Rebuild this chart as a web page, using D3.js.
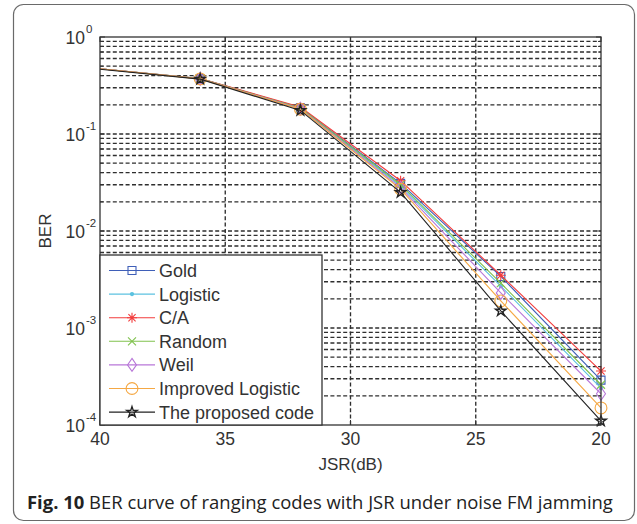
<!DOCTYPE html>
<html>
<head>
<meta charset="utf-8">
<script src="https://cdn.jsdelivr.net/npm/d3@7"></script>
<style>
  html, body { margin: 0; padding: 0; background: #fff; }
  svg { display: block; }
</style>
</head>
<body>
<svg id="chart" width="637" height="524"></svg>
<script>
// JSR sweep (dB) and BER per ranging code
const jsr = [40, 36, 32, 28, 24, 20];
const gold     = [0.47, 0.372, 0.186, 0.031, 0.0034, 0.00029];
const logistic = [0.47, 0.371, 0.184, 0.029, 0.0027, 0.00024];
const ca       = [0.47, 0.373, 0.190, 0.033, 0.0035, 0.00036];
const random   = [0.47, 0.372, 0.185, 0.030, 0.0029, 0.00026];
const weil     = [0.47, 0.371, 0.182, 0.028, 0.0023, 0.00021];
const improved = [0.47, 0.370, 0.180, 0.027, 0.0019, 0.00015];
const proposed = [0.465, 0.368, 0.175, 0.025, 0.0015, 0.00011];

const seriesNames = ["Gold", "Logistic", "C/A", "Random", "Weil", "Improved Logistic", "The proposed code"];
const seriesValues = [gold, logistic, ca, random, weil, improved, proposed];
const seriesColors = ["#3f5fb8", "#5cc2e0", "#f23c3c", "#80c24e", "#b877d8", "#f5a844", "#222222"];
const seriesMarkers = ["square", "dot", "asterisk", "cross", "diamond", "circle", "star"];

const xTicks = [40, 35, 30, 25, 20];
const yDecades = [-4, -3, -2, -1, 0];

const svg = d3.select("#chart");
const font = "'Liberation Sans', Arial, sans-serif";

// Outer rounded frame
svg.append("rect")
  .attr("x", 13.5).attr("y", 4.5).attr("width", 621).attr("height", 516)
  .attr("rx", 10).attr("ry", 10)
  .attr("fill", "#fff").attr("stroke", "#6a6a6a").attr("stroke-width", 1.2);

const plot = { left: 100, right: 601, top: 37, bottom: 425 };
const x = d3.scaleLinear().domain([40, 20]).range([plot.left, plot.right]);
const y = d3.scaleLog().domain([1e-4, 1]).range([plot.bottom, plot.top]);

const g = svg.append("g");

// Grid lines: decades plus minor 2..9 and vertical at x ticks
const gridColor = "#2e2e2e";
const dash = "4,2.4";
const minorVals = [];
yDecades.slice(0, -1).forEach(d => {
  for (let m = 2; m <= 9; m++) minorVals.push(m * Math.pow(10, d));
});
const hVals = yDecades.map(d => Math.pow(10, d)).filter(v => v > 1e-4 && v < 1).concat(minorVals);
g.selectAll("line.hgrid").data(hVals).enter().append("line")
  .attr("class", "hgrid")
  .attr("x1", plot.left).attr("x2", plot.right)
  .attr("y1", d => y(d)).attr("y2", d => y(d))
  .attr("stroke", gridColor).attr("stroke-width", 1.35).attr("stroke-dasharray", dash);
g.selectAll("line.vgrid").data(xTicks.filter(t => t !== 40 && t !== 20)).enter().append("line")
  .attr("class", "vgrid")
  .attr("x1", d => x(d)).attr("x2", d => x(d))
  .attr("y1", plot.top).attr("y2", plot.bottom)
  .attr("stroke", gridColor).attr("stroke-width", 1.35).attr("stroke-dasharray", dash);

// Marker shapes
function markerPath(type) {
  switch (type) {
    case "square": return d3.symbol(d3.symbolSquare, 64)();
    case "circle": return d3.symbol(d3.symbolCircle, 110)();
    case "diamond": return "M0,-6.5L4.5,0L0,6.5L-4.5,0Z";
    case "star": return d3.symbol(d3.symbolStar, 34)();
    case "dot": return d3.symbol(d3.symbolCircle, 8)();
    case "cross": return "M-4,-4L4,4M-4,4L4,-4";
    case "asterisk": return "M-5,0H5M0,-5V5M-3.6,-3.6L3.6,3.6M-3.6,3.6L3.6,-3.6";
  }
}
function markerFill(type, color) {
  return type === "dot" ? color : "none";
}

const line = d3.line().x((d, i) => x(jsr[i])).y(d => y(d));

const series = seriesNames.map((name, k) => ({
  name, values: seriesValues[k], color: seriesColors[k], marker: seriesMarkers[k]
}));

const sg = g.selectAll("g.series").data(series).enter().append("g").attr("class", "series");
sg.append("path")
  .attr("d", d => line(d.values))
  .attr("fill", "none").attr("stroke", d => d.color).attr("stroke-width", 1.1);
sg.each(function (s) {
  d3.select(this).selectAll("path.mk")
    .data(s.values.map((v, i) => ({ x: jsr[i], v })).filter(p => p.x < 40))
    .enter().append("path")
    .attr("class", "mk")
    .attr("d", markerPath(s.marker))
    .attr("transform", p => `translate(${x(p.x)},${y(p.v)})`)
    .attr("fill", markerFill(s.marker, s.color))
    .attr("stroke", s.color).attr("stroke-width", s.marker === "star" ? 1.4 : 1.1);
});

// Axes box
g.append("rect")
  .attr("x", plot.left).attr("y", plot.top)
  .attr("width", plot.right - plot.left).attr("height", plot.bottom - plot.top)
  .attr("fill", "none").attr("stroke", "#333").attr("stroke-width", 1.3);

// Inward tick marks
const tickLen = 5, minorLen = 3;
yDecades.forEach(d => {
  const yy = y(Math.pow(10, d));
  g.append("line").attr("x1", plot.left).attr("x2", plot.left + tickLen).attr("y1", yy).attr("y2", yy).attr("stroke", "#333");
  g.append("line").attr("x1", plot.right).attr("x2", plot.right - tickLen).attr("y1", yy).attr("y2", yy).attr("stroke", "#333");
});
minorVals.forEach(v => {
  const yy = y(v);
  g.append("line").attr("x1", plot.left).attr("x2", plot.left + minorLen).attr("y1", yy).attr("y2", yy).attr("stroke", "#333");
  g.append("line").attr("x1", plot.right).attr("x2", plot.right - minorLen).attr("y1", yy).attr("y2", yy).attr("stroke", "#333");
});
xTicks.forEach(t => {
  g.append("line").attr("x1", x(t)).attr("x2", x(t)).attr("y1", plot.bottom).attr("y2", plot.bottom - tickLen).attr("stroke", "#333");
  g.append("line").attr("x1", x(t)).attr("x2", x(t)).attr("y1", plot.top).attr("y2", plot.top + tickLen).attr("stroke", "#333");
});

// Y tick labels 10^n
const textColor = "#333";
yDecades.forEach(d => {
  const yy = y(Math.pow(10, d));
  svg.append("text")
    .attr("font-family", font).attr("fill", textColor)
    .attr("x", 85).attr("y", yy + 6.5)
    .attr("text-anchor", "end").attr("font-size", 17.5).text("10");
  svg.append("text")
    .attr("font-family", font).attr("fill", textColor)
    .attr("x", 86).attr("y", yy - 4).attr("font-size", 11.5)
    .text(d === 0 ? "0" : "-" + Math.abs(d));
});

// X tick labels
svg.selectAll("text.xt").data(xTicks).enter().append("text")
  .attr("class", "xt")
  .attr("font-family", font).attr("fill", textColor).attr("font-size", 17.5)
  .attr("text-anchor", "middle")
  .attr("x", d => x(d)).attr("y", 445)
  .text(d => d);

// Axis titles
svg.append("text")
  .attr("font-family", font).attr("fill", textColor).attr("font-size", 17)
  .attr("text-anchor", "middle").attr("x", (plot.left + plot.right) / 2).attr("y", 470)
  .text("JSR(dB)");
svg.append("text")
  .attr("font-family", font).attr("fill", textColor).attr("font-size", 17)
  .attr("text-anchor", "middle")
  .attr("transform", `translate(51,${y(1e-2)}) rotate(-90)`)
  .text("BER");

// Legend
const leg = { x: 100, y: 255, w: 222, h: 170 };
svg.append("rect")
  .attr("x", leg.x).attr("y", leg.y).attr("width", leg.w).attr("height", leg.h)
  .attr("fill", "#fff").attr("stroke", "#333").attr("stroke-width", 1.3);
const rowH = 23.6, row0 = 270.5;
series.forEach((s, i) => {
  const yy = row0 + i * rowH;
  svg.append("line")
    .attr("x1", 109).attr("x2", 155).attr("y1", yy).attr("y2", yy)
    .attr("stroke", s.color).attr("stroke-width", 1.1);
  svg.append("path")
    .attr("d", markerPath(s.marker))
    .attr("transform", `translate(132,${yy})`)
    .attr("fill", markerFill(s.marker, s.color))
    .attr("stroke", s.color).attr("stroke-width", s.marker === "star" ? 1.4 : 1.1);
  svg.append("text")
    .attr("font-family", font).attr("fill", textColor).attr("font-size", 18)
    .attr("x", 159).attr("y", yy + 6.5)
    .text(s.name);
});

// Caption
const cap = svg.append("text")
  .attr("font-family", "'Open Sans', 'Noto Sans', sans-serif")
  .attr("font-size", 18).attr("fill", "#222")
  .attr("x", 0).attr("y", 0);
cap.append("tspan").attr("font-weight", "bold").text("Fig. 10");
cap.append("tspan").text(" BER curve of ranging codes with JSR under noise FM jamming");
const capW = cap.node().getComputedTextLength();
const target = 586;
cap.attr("transform", `translate(27,509) scale(${target / capW},1)`);
</script>
</body>
</html>
